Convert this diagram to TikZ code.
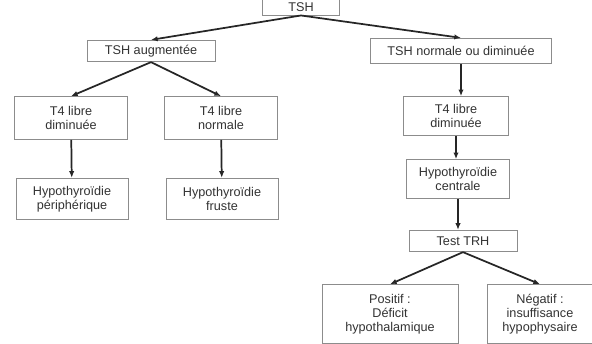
\documentclass[tikz,border=0pt]{standalone}
\usepackage{fontspec}
\setmainfont{Liberation Sans}
\usetikzlibrary{arrows.meta}
\tikzset{
    flow-box/.style = {draw=black!45, fill=white, line width=0.7pt, rectangle, align=center, inner sep=2pt, font=\fontsize{9.5}{10.5}\selectfont, text=black!80},
    flow-arrow/.style = {draw=black!85, line width=1.3pt, -{Latex[length=5pt,width=4pt]}},
}
\begin{document}
\begin{tikzpicture}[x=0.75pt, y=-0.75pt]
\useasboundingbox (0,0) rectangle (592,343);
\node [flow-box, minimum width=58pt, minimum height=12pt] (tsh) at (301,7) {TSH};
\node [flow-box, minimum width=96pt, minimum height=16pt] (aug) at (151,51) {TSH augmentée};
\node [flow-box, minimum width=136pt, minimum height=19pt] (norm) at (461,51) {TSH normale ou diminuée};
\node [flow-box, minimum width=85pt, minimum height=32pt] (t4dim) at (71,118) {T4 libre\\diminuée};
\node [flow-box, minimum width=85pt, minimum height=32pt] (t4nor) at (221,118) {T4 libre\\normale};
\node [flow-box, minimum width=84pt, minimum height=31pt] (hyper) at (72,199) {Hypothyroïdie\\périphérique};
\node [flow-box, minimum width=84pt, minimum height=31pt] (hyfru) at (222,199) {Hypothyroïdie\\fruste};
\node [flow-box, minimum width=79pt, minimum height=29pt] (t4dimb) at (456,116) {T4 libre\\diminuée};
\node [flow-box, minimum width=77pt, minimum height=29pt] (hycen) at (458,179) {Hypothyroïdie\\centrale};
\node [flow-box, minimum width=81pt, minimum height=16pt] (trh) at (463,241) {Test TRH};
\node [flow-box, minimum width=102pt, minimum height=44pt] (pos) at (390,314) {Positif :\\Déficit\\hypothalamique};
\node [flow-box, minimum width=79pt, minimum height=44pt] (neg) at (540,314) {Négatif :\\insuffisance\\hypophysaire};
\draw [flow-arrow] (tsh.south) -- (aug.north);
\draw [flow-arrow] (tsh.south) -- (norm.north);
\draw [flow-arrow] (aug.south) -- (t4dim.north);
\draw [flow-arrow] (aug.south) -- (t4nor.north);
\draw [flow-arrow] (t4dim) -- (hyper);
\draw [flow-arrow] (t4nor) -- (hyfru);
\draw [flow-arrow] (norm.south) -- (norm.south |- t4dimb.north);
\draw [flow-arrow] (t4dimb) -- (t4dimb |- hycen.north);
\draw [flow-arrow] (hycen) -- (hycen |- trh.north);
\draw [flow-arrow] (trh.south) -- (pos.north);
\draw [flow-arrow] (trh.south) -- (neg.north);
\end{tikzpicture}
\end{document}
